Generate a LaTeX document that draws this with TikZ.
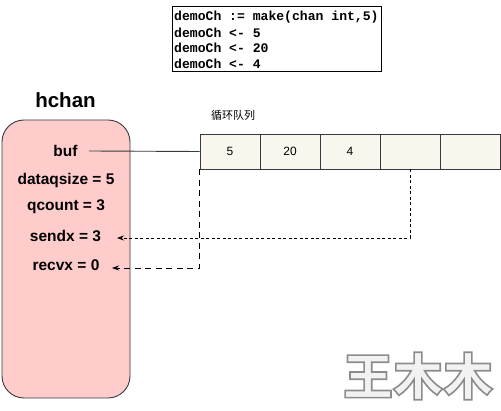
\documentclass[tikz,border=0pt]{standalone}
\usepackage{fontspec}
\setmainfont{Liberation Sans}
\newfontfamily\codefont{Liberation Mono}
\newfontfamily\cjkfont{Noto Sans CJK SC}
\usetikzlibrary{arrows.meta}
\definecolor{pinkfill}{HTML}{FFCCCC}
\definecolor{cellfill}{HTML}{F9F7ED}
\definecolor{edge}{HTML}{36393D}
\definecolor{wmfill}{HTML}{F2F2F2}
\newcommand{\outlinetext}[1]{\special{pdf:literal direct 2 Tr 1.6 w 0.55 0.55 0.55 RG}#1\special{pdf:literal direct 0 Tr}}
\tikzset{
  codeline/.style={anchor=west, inner sep=0pt, font=\codefont\bfseries\fontsize{13.1}{13}\selectfont},
  field/.style={inner sep=0pt, font=\bfseries\fontsize{15.5}{16}\selectfont},
  cell/.style={draw=edge, fill=cellfill, line width=0.9pt, minimum width=60pt, minimum height=35pt, inner sep=0pt, font=\fontsize{12}{12}\selectfont},
  ptr/.style={line width=0.8pt, -{Stealth[length=7pt,width=5pt]}},
}
\begin{document}
\begin{tikzpicture}[x=1pt,y=-1pt]
\useasboundingbox (0,0) rectangle (501,411);
% code box
\node[draw=black, line width=0.9pt, minimum width=209pt, minimum height=65pt, inner sep=0pt] (codebox) at (276.5,38.5) {};
\node[codeline] (c1) at (174,17) {demoCh := make(chan int,5)};
\node[codeline] (c2) at (174,32.5) {demoCh <- 5};
\node[codeline] (c3) at (174,48) {demoCh <- 20};
\node[codeline] (c4) at (174,63.5) {demoCh <- 4};
% hchan
\node[font=\bfseries\fontsize{20.5}{21}\selectfont, inner sep=0pt] (title) at (65.5,100) {hchan};
\node[draw=edge, fill=pinkfill, line width=0.9pt, rounded corners=22pt, minimum width=128pt, minimum height=278pt, inner sep=0pt] (hchan) at (66,259) {};
\node[field] (buf) at (65.5,151) {buf};
\node[field] (dqs) at (66,180.5) {dataqsize = 5};
\node[field] (qc) at (66,206.5) {qcount = 3};
\node[field] (sx) at (65.5,236) {sendx = 3};
\node[field] (rx) at (66,265.5) {recvx = 0};
% queue
\node[anchor=west, inner sep=0pt, font=\cjkfont\fontsize{11}{11}\selectfont] (qlabel) at (211,115) {循环队列};
\node[cell] (q1) at (230,151.5) {5};
\node[cell] (q2) at (290,151.5) {20};
\node[cell] (q3) at (350,151.5) {4};
\node[cell] (q4) at (410,151.5) {};
\node[cell] (q5) at (470,151.5) {};
% connector ends
\coordinate (bufstart) at (89,151);
\coordinate (sxtip) at (117,238);
\coordinate (rxtip) at (112,268);
% connectors
\draw[line width=0.9pt, draw=edge] (bufstart) -- (q1.west);
\draw[ptr, dash pattern=on 3pt off 2.5pt] (q4.south) |- (sxtip);
\draw[ptr, dash pattern=on 6pt off 4.5pt] (q1.south west) |- (rxtip);
% watermark
\node[inner sep=0pt, text=wmfill, font=\cjkfont\bfseries\fontsize{50}{50}\selectfont] (wm) at (418,376) {\outlinetext{王木木}};
\end{tikzpicture}
\end{document}
